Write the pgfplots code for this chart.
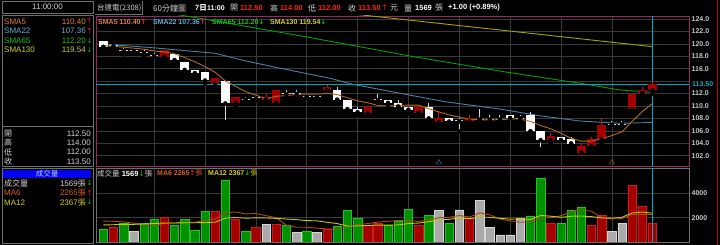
\documentclass[border=0pt]{standalone}
\usepackage{pgfplots}
\pgfplotsset{compat=1.18}
\usepackage{pgfplotstable}
\usepackage{fontspec}
\setmainfont{Liberation Sans}
\newfontfamily\cjk{Noto Sans CJK TC}
\newfontfamily\arr{DejaVu Sans}
\definecolor{gridc}{RGB}{58,58,58}
\definecolor{pinkc}{RGB}{150,40,100}
\definecolor{framec}{RGB}{110,110,110}
\definecolor{tickc}{RGB}{200,200,200}
\definecolor{upbody}{RGB}{165,0,0}
\definecolor{upline}{RGB}{200,20,20}
\definecolor{dnbody}{RGB}{250,250,250}
\definecolor{dnline}{RGB}{215,215,215}
\definecolor{volg}{RGB}{0,145,0}
\definecolor{volgl}{RGB}{40,190,40}
\definecolor{volr}{RGB}{165,0,0}
\definecolor{volrl}{RGB}{200,30,30}
\definecolor{volgr}{RGB}{170,170,170}
\definecolor{volgrl}{RGB}{215,215,215}
\definecolor{smafive}{RGB}{180,105,35}
\definecolor{smatt}{RGB}{70,130,165}
\definecolor{smasf}{RGB}{0,160,0}
\definecolor{smaot}{RGB}{165,165,0}
\definecolor{masix}{RGB}{170,75,20}
\definecolor{matw}{RGB}{200,200,0}
\definecolor{cyanc}{RGB}{0,170,190}
\definecolor{txtfive}{RGB}{225,130,50}
\definecolor{txttt}{RGB}{100,170,210}
\definecolor{txtsf}{RGB}{30,190,30}
\definecolor{txtot}{RGB}{210,210,40}
\definecolor{txtmasix}{RGB}{220,95,30}
\definecolor{arrup}{RGB}{255,30,30}
\definecolor{arrdn}{RGB}{0,200,0}
\definecolor{numred}{RGB}{255,30,30}
\definecolor{lgrey}{RGB}{210,210,210}
\definecolor{blueb}{RGB}{0,0,240}
\newcommand{\lf}{\fontsize{8}{9}\selectfont}
\newcommand{\smf}{\fontsize{7}{8}\selectfont\bfseries}
\newcommand{\UP}{{\arr\color{arrup}↑}}
\newcommand{\DN}{{\arr\color{arrdn}↓}}

% red (up) candles: i low high bodybottom bodytop
\pgfplotstableread{
i l h bb bt
7 117.9 119.0 117.9 119.0
12 113.0 114.5 113.6 114.5
14 109.9 111.5 110.5 111.5
17 111.0 112.0 111.0 111.5
18 110.5 112.5 110.5 112.5
23 112.5 113.4 112.5 113.1
27 108.8 109.9 108.8 109.9
32 108.9 109.9 108.9 109.9
34 107.4 109.0 107.4 108.0
37 107.5 108.6 107.5 108.0
45 103.9 105.6 104.5 105.1
48 101.5 104.0 102.5 103.6
49 103.5 105.0 103.5 104.6
50 104.0 108.0 104.6 107.0
53 109.0 112.0 109.5 112.0
54 111.6 113.1 112.1 112.5
55 112.0 114.0 112.5 113.5
}\upc
% white (down) candles
\pgfplotstableread{
i l h bb bt
1 119.5 120.5 119.5 120.5
8 116.8 118.4 117.4 118.4
9 115.1 117.1 115.8 117.1
10 114.7 115.8 115.3 115.8
11 113.5 115.5 114.1 115.5
13 107.4 114.0 110.4 114.0
24 111.0 113.1 111.0 112.5
25 108.8 111.0 109.5 111.0
26 108.5 109.9 109.0 109.5
29 109.9 111.0 110.5 111.0
30 109.9 111.0 109.9 110.5
31 108.8 109.9 109.4 109.9
33 107.4 110.4 108.0 109.9
35 107.0 108.0 107.5 108.0
41 108.05 108.6 108.05 108.6
43 105.9 109.0 105.9 108.6
44 103.0 105.9 104.5 105.9
46 104.5 105.0 104.5 105.0
47 103.95 105.0 103.95 104.6
}\dnc
% doji candles
\pgfplotstableread{
i l h bb bt
2 119.4 120.0 119.62 119.78
3 118.3 119.4 118.82 118.98
4 118.4 119.0 118.82 118.98
5 117.9 119.0 118.52 118.68
6 117.9 118.6 118.02 118.18
15 111.0 111.5 110.92 111.08
16 110.9 111.6 111.22 111.38
19 111.5 112.6 111.92 112.08
20 111.5 112.6 111.92 112.08
21 111.5 112.0 111.42 111.58
22 111.5 112.0 111.42 111.58
28 110.5 112.0 110.92 111.08
36 105.9 108.0 107.52 107.68
38 107.8 109.5 107.72 107.88
39 107.8 108.6 107.72 107.88
40 107.8 108.6 107.72 107.88
42 108.0 108.6 107.92 108.08
51 107.0 107.5 106.92 107.08
52 107.0 107.5 106.92 107.08
}\djc

\pgfplotsset{
  chartax/.style={scale only axis, anchor=south west, width=593pt,
    xmin=0.28, xmax=58.59, xtick={6,11,...,51}, xticklabels={},
    grid=major, major grid style={draw=gridc, line width=0.5pt},
    tick style={draw=none}, major tick length=0pt,
    yticklabel pos=right,
    yticklabel style={font=\smf, text=tickc, inner sep=2.5pt},
    clip=true},
  wick/.style={only marks, mark=none, forget plot,
    error bars/.cd, y dir=plus, y explicit, error mark=none,
    error bar style={line width=1pt, draw=#1}},
  body/.style={only marks, mark=none, forget plot,
    error bars/.cd, y dir=plus, y explicit, error mark=none,
    error bar style={line width=8.4pt, draw=#1}},
}

\begin{document}
\begin{tikzpicture}[x=1pt,y=1pt]
\fill[black] (0,0) rectangle (720,245);
\path[use as bounding box] (0,0) rectangle (720,245);

% ---------- left panel ----------
\draw[framec, line width=0.8pt] (2,232) rectangle (93,244);
\node[text=lgrey, inner sep=0] at (47.5,238) {\lf 11:00:00};
\draw[framec, line width=0.8pt] (2,78.3) rectangle (93,230);
\draw[framec, line width=0.8pt] (2,118.3) -- (93,118.3);
\draw[framec, line width=0.8pt] (2,2) rectangle (93,76.5);

\foreach \yy/\cc/\lab/\val/\ar in {223.7/txtfive/SMA5/110.40/\UP, 214/txttt/SMA22/107.36/\UP, 204.3/txtsf/SMA65/112.20/\DN, 195/txtot/SMA130/119.54/\DN}{
  \node[anchor=west, inner sep=0, text=\cc] at (4,\yy) {\lf \lab};
  \node[anchor=east, inner sep=0, text=\cc] at (86,\yy) {\lf \val};
  \node[anchor=west, inner sep=0] at (86.3,\yy) {\fontsize{7}{8}\selectfont\ar};
}
\foreach \yy/\lab/\val in {111.7/開/112.50, 102.3/高/114.00, 93/低/112.00, 83.3/收/113.50}{
  \node[anchor=west, inner sep=0, text=lgrey] at (4,\yy) {\lf\cjk \lab};
  \node[anchor=east, inner sep=0, text=lgrey] at (91,\yy) {\lf \val};
}
\fill[blueb] (3,67.3) rectangle (91,75);
\node[text={rgb,255:red,190;green,205;blue,255}, inner sep=0] at (47,71.2) {\fontsize{7.5}{8}\selectfont\cjk 成交量};
\node[anchor=west, inner sep=0, text=lgrey] at (4,61.7) {\lf\cjk 成交量};
\node[anchor=east, inner sep=0, text=lgrey] at (86,61.7) {\lf 1569{\cjk 張}};
\node[anchor=west, inner sep=0] at (86.3,61.7) {\fontsize{7}{8}\selectfont\DN};
\node[anchor=west, inner sep=0, text=txtmasix] at (4,52.3) {\lf MA6};
\node[anchor=east, inner sep=0, text=txtmasix] at (86,52.3) {\lf 2265{\cjk 張}};
\node[anchor=west, inner sep=0] at (86.3,52.3) {\fontsize{7}{8}\selectfont\UP};
\node[anchor=west, inner sep=0, text=txtot] at (4,42.7) {\lf MA12};
\node[anchor=east, inner sep=0, text=txtot] at (86,42.7) {\lf 2367{\cjk 張}};
\node[anchor=west, inner sep=0] at (86.3,42.7) {\fontsize{7}{8}\selectfont\DN};

% ---------- price axis ----------
\begin{axis}[chartax, at={(96pt,78.3pt)}, height=150.7pt,
  ymin=100.22, ymax=124.48,
  axis line style={draw=pinkc, line width=0.9pt},
  ytick={102,104,...,124},
  yticklabels={102.0,104.0,106.0,108.0,110.0,112.0,,116.0,118.0,120.0,122.0,124.0}]
\addplot[smaot, line width=0.9pt] coordinates {(26,124.72) (41,122.05) (55,119.54)};
\addplot[smasf, line width=0.9pt] coordinates {(7.5,124.9) (9.54,124.37) (20.35,121.3) (31.15,118.04) (40,115.61) (47.87,113.65) (51.8,112.57) (55,112.2)};
\addplot[smatt, line width=0.9pt] coordinates {(1,119.97) (6,119.35) (12,118.48) (14.6,117.4) (18,116.2) (23.3,114.45) (25.4,113.53) (30.2,112.03) (34.6,110.68) (40,109.5) (44,108.4) (47.9,107.57) (51.8,107.2) (54,107.3) (55,107.36)};
\addplot[cyanc, line width=0.8pt] coordinates {(0.28,113.5) (58.59,113.5)};
\addplot[cyanc, line width=0.8pt] coordinates {(55,100.22) (55,124.48)};
\addplot[wick=upline] table[x=i, y=l, y error plus expr=\thisrow{h}-\thisrow{l}] {\upc};
\addplot[wick=dnline] table[x=i, y=l, y error plus expr=\thisrow{h}-\thisrow{l}] {\dnc};
\addplot[wick=dnline] table[x=i, y=l, y error plus expr=\thisrow{h}-\thisrow{l}] {\djc};
\addplot[body=upbody] table[x=i, y=bb, y error plus expr=\thisrow{bt}-\thisrow{bb}] {\upc};
\addplot[body=dnbody] table[x=i, y=bb, y error plus expr=\thisrow{bt}-\thisrow{bb}] {\dnc};
\addplot[body=dnline] table[x=i, y=bb, y error plus expr=\thisrow{bt}-\thisrow{bb}] {\djc};
\addplot[smafive, line width=0.9pt] coordinates {
(1,119.7) (2,119.6) (3,119.45) (4,119.3) (5,119.12) (6,118.84) (7,118.70) (8,118.40) (9,117.78) (10,117.12)
(11,116.32) (12,115.42) (13,114.02) (14,113.16) (15,112.30) (16,111.74) (17,111.14) (18,111.56) (19,111.66) (20,111.86)
(21,111.90) (22,111.90) (23,112.02) (24,111.82) (25,111.32) (26,110.82) (27,110.50) (28,110.08) (29,109.98) (30,110.06)
(31,110.14) (32,110.14) (33,109.54) (34,109.04) (35,108.56) (36,108.20) (37,107.82) (38,107.78) (39,107.74) (40,107.80)
(41,107.89) (42,107.89) (43,107.51) (44,106.85) (45,106.31) (46,105.60) (47,104.79) (48,104.33) (49,104.35) (50,104.73)
(51,105.23) (52,105.84) (53,107.52) (54,109.10) (55,110.40)};
\addplot[only marks, mark=triangle, mark size=3pt, smatt] coordinates {(34,100.9)};
\addplot[only marks, mark=triangle, mark size=3pt, smafive] coordinates {(51,100.9)};
\end{axis}

% ---------- volume axis ----------
\begin{axis}[chartax, at={(96pt,3pt)}, height=74pt,
  ymin=0, ymax=6080,
  axis line style={draw=framec, line width=0.8pt},
  ytick={2000,4000}, yticklabels={2000,4000}]
\addplot[ybar, bar width=8.4pt, bar shift=0pt, fill=volg, draw=volgl, line width=0.5pt] coordinates {
(1,1070) (3,1560) (5,1560) (6,1870) (8,1400) (9,1870) (10,990) (11,2520) (13,5070) (15,900)
(19,1400) (21,900) (24,1290) (25,2600) (26,1970) (29,1400) (30,1700) (31,2710) (33,2220) (35,1560)
(43,2140) (44,5260) (46,1500) (47,2630) (48,2880)};
\addplot[ybar, bar width=8.4pt, bar shift=0pt, fill=volr, draw=volrl, line width=0.5pt] coordinates {
(2,1230) (7,2050) (12,2520) (14,1830) (16,1230) (18,1450) (23,1040) (27,1370) (28,1560) (32,1340)
(37,1950) (45,1500) (49,1340) (50,2190) (53,4680) (54,2960) (55,1569)};
\addplot[ybar, bar width=8.4pt, bar shift=0pt, fill=volgr, draw=volgrl, line width=0.5pt] coordinates {
(4,900) (17,1450) (20,820) (22,800) (34,2600) (36,2630) (38,3450) (39,1210) (40,580) (41,580)
(42,1950) (51,900) (52,1560)};
\addplot[masix, line width=0.9pt] coordinates {
(1,1720) (2,1700) (3,1650) (4,1550) (5,1450) (6,1365) (7,1528) (8,1557) (9,1608) (10,1623)
(11,1783) (12,1892) (13,2395) (14,2467) (15,2305) (16,2345) (17,2167) (18,1988) (19,1377) (20,1208)
(21,1208) (22,1137) (23,1068) (24,1042) (25,1242) (26,1433) (27,1512) (28,1638) (29,1698) (30,1767)
(31,1785) (32,1680) (33,1822) (34,1995) (35,2022) (36,2177) (37,2050) (38,2402) (39,2233) (40,1897)
(41,1733) (42,1620) (43,1652) (44,1953) (45,2002) (46,2155) (47,2497) (48,2652) (49,2518) (50,2007)
(51,1907) (52,1917) (53,2258) (54,2272) (55,2265)};
\addplot[matw, line width=0.9pt] coordinates {
(1,1400) (2,1420) (3,1450) (4,1450) (5,1480) (6,1520) (7,1560) (8,1560) (9,1580) (10,1580)
(11,1600) (12,1628) (13,1962) (14,2012) (15,1957) (16,1984) (17,1975) (18,1940) (19,1886) (20,1838)
(21,1757) (22,1741) (23,1618) (24,1515) (25,1309) (26,1321) (27,1360) (28,1388) (29,1383) (30,1404)
(31,1513) (32,1557) (33,1667) (34,1817) (35,1860) (36,1972) (37,1918) (38,2041) (39,2028) (40,1946)
(41,1878) (42,1898) (43,1851) (44,2178) (45,2118) (46,2026) (47,2115) (48,2136) (49,2085) (50,1980)
(51,1954) (52,2036) (53,2378) (54,2462) (55,2367)};
\addplot[cyanc, line width=0.8pt] coordinates {(55,0) (55,6080)};
\end{axis}

% ---------- overlays ----------
\node[anchor=west, inner sep=1pt, fill=black, text=cyanc] at (691,160.8) {\smf 113.50};

\node[anchor=west, inner sep=0, text=lgrey] at (97,237) {\fontsize{7.5}{8}\selectfont\cjk 台達電(2308)};
\draw[framec, line width=0.6pt] (95,230.5) -- (142,230.5) -- (142,244);
\node[anchor=west, inner sep=0, text=lgrey] at (153,237) {\fontsize{8}{9}\selectfont\cjk 60分鐘圖};
\node[anchor=west, inner sep=0, text=white] at (195,237) {\fontsize{7.5}{8}\selectfont\bfseries 7{\cjk 日}};
\node[anchor=west, inner sep=0, text=white] at (207,237) {\smf 11:00};
\foreach \xx/\lab/\xv/\val in {230/開/240/112.50, 270/高/280/114.00, 308/低/318/112.00, 348/收/358/113.50}{
  \node[anchor=west, inner sep=0, text=lgrey] at (\xx,237) {\fontsize{8}{9}\selectfont\cjk \lab};
  \node[anchor=west, inner sep=0, text=numred] at (\xv,237) {\fontsize{7.5}{8}\selectfont\bfseries \val};
}
\node[anchor=west, inner sep=0] at (381.5,237) {\fontsize{7.5}{8}\selectfont\UP};
\node[anchor=west, inner sep=0, text=lgrey] at (390,237) {\fontsize{8}{9}\selectfont\cjk 元};
\node[anchor=west, inner sep=0, text=lgrey] at (404,237) {\fontsize{8}{9}\selectfont\cjk 量};
\node[anchor=west, inner sep=0, text=white] at (415,237) {\fontsize{7.5}{8}\selectfont\bfseries 1569};
\node[anchor=west, inner sep=0, text=lgrey] at (435,237) {\fontsize{8}{9}\selectfont\cjk 張};
\node[anchor=west, inner sep=0, text=white] at (448,237) {\fontsize{7.5}{8}\selectfont\bfseries +1.00 (+0.89\%)};

\node[anchor=west, inner sep=0, text=txtfive] at (98,223.3) {\smf SMA5 110.40\UP};
\node[anchor=west, inner sep=0, text=txttt] at (153,223.3) {\smf SMA22 107.36\UP};
\node[anchor=west, inner sep=0, text=txtsf] at (212,223.3) {\smf SMA65 112.20\DN};
\node[anchor=west, inner sep=0, text=txtot] at (270,223.3) {\smf SMA130 119.54\DN};

\node[anchor=west, inner sep=0, text=lgrey] at (97,71.7) {\fontsize{7.5}{8}\selectfont{\cjk 成交量} \textcolor{white}{\bfseries 1569}\DN{\cjk 張}};
\node[anchor=west, inner sep=0, text=txtmasix] at (157,71.7) {\smf MA6 2265\UP{\cjk\mdseries 張}};
\node[anchor=west, inner sep=0, text=txtot] at (208,71.7) {\smf MA12 2367\DN{\cjk\mdseries 張}};

\draw[red!75!black, line width=1.5pt] (717.5,0) -- (717.5,245);
\end{tikzpicture}
\end{document}
